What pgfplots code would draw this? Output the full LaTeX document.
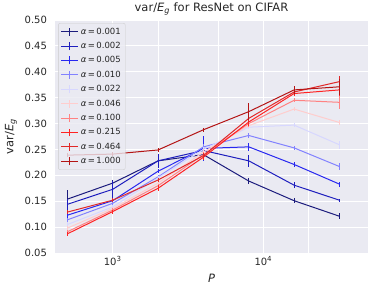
\documentclass[border=0pt]{standalone}
\usepackage{pgfplots}
\pgfplotsset{compat=1.18}
\usepackage{fontspec}
\setmainfont{DejaVu Sans}
\definecolor{bg}{RGB}{234,234,242}
\definecolor{labcol}{RGB}{38,38,38}
\definecolor{legedge}{RGB}{204,204,204}
\definecolor{c1}{RGB}{28,28,125}
\definecolor{c2}{RGB}{30,30,190}
\definecolor{c3}{RGB}{40,40,240}
\definecolor{c4}{RGB}{130,130,255}
\definecolor{c5}{RGB}{215,215,255}
\definecolor{c6}{RGB}{255,205,205}
\definecolor{c7}{RGB}{255,130,130}
\definecolor{c8}{RGB}{255,35,35}
\definecolor{c9}{RGB}{225,40,40}
\definecolor{c10}{RGB}{180,20,20}
\pgfplotsset{
  eb/.style={line width=1pt, error bars/y dir=both, error bars/y explicit, error bars/error mark=none, error bars/error bar style={line width=1pt}},
}
\newcommand{\al}[1]{{\itshape α}\,=\,#1}
\newcommand{\lgi}[1]{\addlegendimage{#1, legend image code/.code={\draw[#1, line width=1pt] (0cm,0cm) -- (0.6cm,0cm); \draw[#1, line width=1pt] (0.3cm,-0.14cm) -- (0.3cm,0.14cm);}}}
\begin{document}
\begin{tikzpicture}
\begin{axis}[
  scale only axis, width=313pt, height=233pt,
  xmode=log, xmin=414, xmax=49500, ymin=0.05, ymax=0.5,
  axis background/.style={fill=bg},
  axis line style={draw=none},
  major tick length=0pt, minor tick length=0pt,
  xtick={1000,10000}, xticklabels={10\textsuperscript{3},10\textsuperscript{4}},
  minor xtick={2000,5000,20000},
  ytick={0.05,0.10,0.15,0.20,0.25,0.30,0.35,0.40,0.45,0.50},
  /pgf/number format/assume math mode=true,
  yticklabel style={/pgf/number format/fixed, /pgf/number format/fixed zerofill, /pgf/number format/precision=2, xshift=-4.5pt},
  grid=both,
  major grid style={white, line width=0.9pt},
  minor grid style={white, line width=0.9pt},
  tick label style={font=\fontsize{10}{12}\selectfont, text=labcol},
  title={var/\textit{E}\textsubscript{\textit{g}} for ResNet on CIFAR},
  title style={at={(rel axis cs:0.5,1)}, anchor=base, yshift=2.5pt, font=\fontsize{11.5}{13}\selectfont, text=labcol},
  xlabel={\textit{P}},
  xlabel style={at={(rel axis cs:0.5,0)}, anchor=north, yshift=-18pt, font=\fontsize{11.5}{13}\selectfont, text=labcol},
  ylabel={var/\textit{E}\textsubscript{\textit{g}}},
  ylabel style={at={(rel axis cs:0,0.5)}, anchor=center, yshift=44pt, font=\fontsize{11.5}{13}\selectfont, text=labcol},
  legend style={at={(0.01,0.987)}, anchor=north west, fill=bg, fill opacity=0.8, text opacity=1, draw=legedge, rounded corners=2pt, font=\fontsize{8.5}{10}\selectfont, text=labcol, row sep=2.6pt, inner sep=2.5pt},
  legend cell align=left,
]
\lgi{c1}\addlegendentry{\al{0.001}}
\lgi{c2}\addlegendentry{\al{0.002}}
\lgi{c3}\addlegendentry{\al{0.005}}
\lgi{c4}\addlegendentry{\al{0.010}}
\lgi{c5}\addlegendentry{\al{0.022}}
\lgi{c6}\addlegendentry{\al{0.046}}
\lgi{c7}\addlegendentry{\al{0.100}}
\lgi{c8}\addlegendentry{\al{0.215}}
\lgi{c9}\addlegendentry{\al{0.464}}
\lgi{c10}\addlegendentry{\al{1.000}}
\addplot[c1, eb, forget plot] coordinates {(500,0.154)+-(0,0.018) (1000,0.185)+-(0,0.006) (2000,0.228)+-(0,0.005) (4000,0.240)+-(0,0.006) (8000,0.189)+-(0,0.006) (16000,0.151)+-(0,0.005) (32000,0.121)+-(0,0.006)};
\addplot[c2, eb, forget plot] coordinates {(500,0.144)+-(0,0.010) (1000,0.173)+-(0,0.017) (2000,0.228)+-(0,0.013) (4000,0.248)+-(0,0.008) (8000,0.228)+-(0,0.012) (16000,0.181)+-(0,0.006) (32000,0.152)+-(0,0.003)};
\addplot[c3, eb, forget plot] coordinates {(500,0.123)+-(0,0.006) (1000,0.151)+-(0,0.005) (2000,0.208)+-(0,0.004) (4000,0.252)+-(0,0.024) (8000,0.255)+-(0,0.008) (16000,0.221)+-(0,0.005) (32000,0.183)+-(0,0.005)};
\addplot[c4, eb, forget plot] coordinates {(500,0.114)+-(0,0.004) (1000,0.146)+-(0,0.004) (2000,0.197)+-(0,0.004) (4000,0.255)+-(0,0.006) (8000,0.277)+-(0,0.004) (16000,0.253)+-(0,0.004) (32000,0.217)+-(0,0.006)};
\addplot[c5, eb, forget plot] coordinates {(500,0.105)+-(0,0.004) (1000,0.139)+-(0,0.003) (2000,0.195)+-(0,0.004) (4000,0.250)+-(0,0.005) (8000,0.293)+-(0,0.004) (16000,0.297)+-(0,0.004) (32000,0.259)+-(0,0.008)};
\addplot[c6, eb, forget plot] coordinates {(500,0.098)+-(0,0.004) (1000,0.136)+-(0,0.003) (2000,0.185)+-(0,0.004) (4000,0.245)+-(0,0.005) (8000,0.296)+-(0,0.005) (16000,0.328)+-(0,0.004) (32000,0.302)+-(0,0.005)};
\addplot[c7, eb, forget plot] coordinates {(500,0.091)+-(0,0.004) (1000,0.133)+-(0,0.003) (2000,0.180)+-(0,0.004) (4000,0.240)+-(0,0.005) (8000,0.300)+-(0,0.006) (16000,0.345)+-(0,0.004) (32000,0.341)+-(0,0.013)};
\addplot[c8, eb, forget plot] coordinates {(500,0.087)+-(0,0.004) (1000,0.130)+-(0,0.004) (2000,0.175)+-(0,0.006) (4000,0.235)+-(0,0.005) (8000,0.303)+-(0,0.008) (16000,0.358)+-(0,0.005) (32000,0.365)+-(0,0.012)};
\addplot[c9, eb, forget plot] coordinates {(500,0.129)+-(0,0.004) (1000,0.152)+-(0,0.004) (2000,0.191)+-(0,0.004) (4000,0.238)+-(0,0.005) (8000,0.310)+-(0,0.008) (16000,0.361)+-(0,0.005) (32000,0.381)+-(0,0.010)};
\addplot[c10, eb, forget plot] coordinates {(500,0.239)+-(0,0.004) (1000,0.241)+-(0,0.004) (2000,0.249)+-(0,0.004) (4000,0.288)+-(0,0.004) (8000,0.323)+-(0,0.017) (16000,0.365)+-(0,0.008) (32000,0.371)+-(0,0.015)};
\end{axis}
\pgfresetboundingbox
\path ([shift={(-55pt,-39pt)}]current axis.south west) rectangle ([shift={(6pt,20pt)}]current axis.north east);
\end{tikzpicture}
\end{document}
